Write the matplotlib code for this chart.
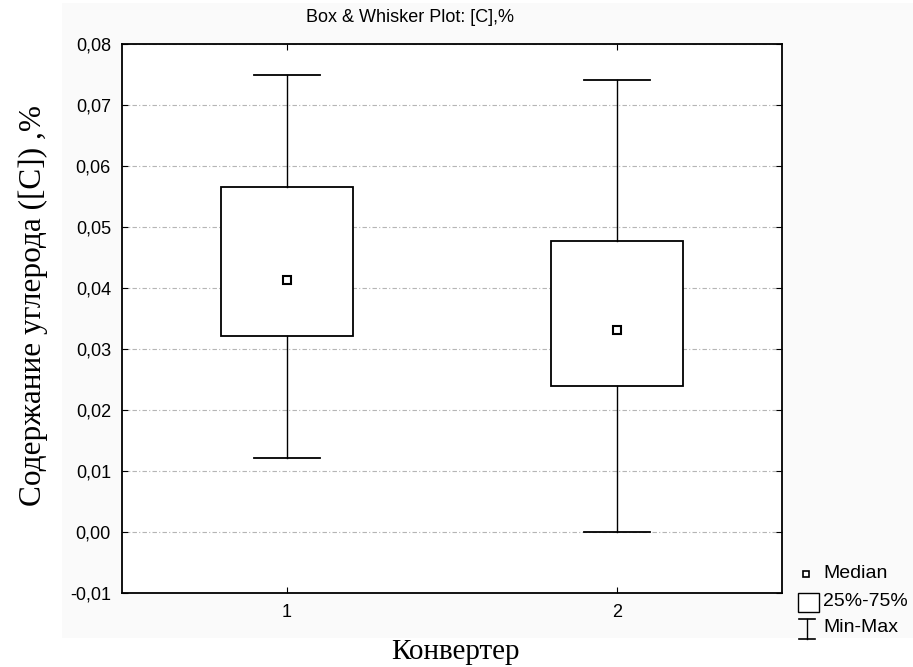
import matplotlib
matplotlib.use("Agg")
from matplotlib import pyplot as plt
from matplotlib.patches import Rectangle
from matplotlib.lines import Line2D

# Summary statistics per converter
converters = [1, 2]
medians = [0.0413, 0.0331]
q1 = [0.0321, 0.0239]
q3 = [0.0566, 0.0477]
mins = [0.0121, 0.0000]
maxs = [0.0749, 0.0741]

y_ticks = [-0.01, 0.0, 0.01, 0.02, 0.03, 0.04, 0.05, 0.06, 0.07, 0.08]
y_tick_labels = ["-0,01", "0,00", "0,01", "0,02", "0,03", "0,04",
                 "0,05", "0,06", "0,07", "0,08"]

fig = plt.figure(figsize=(9.13, 6.67), dpi=100)
fig.patch.set_facecolor("white")

# light panel behind the plot area
fig.patches.append(Rectangle((62 / 913, 1 - 638 / 667), (913 - 62) / 913,
                             (638 - 3) / 667, transform=fig.transFigure,
                             facecolor="#fafafa", edgecolor="none",
                             zorder=-10))

ax = fig.add_axes([122 / 913, 1 - 593 / 667, 660 / 913, 549 / 667])
ax.set_zorder(1)
ax.set_facecolor("white")

stats = []
for i in range(len(converters)):
    stats.append({"med": medians[i], "q1": q1[i], "q3": q3[i],
                  "whislo": mins[i], "whishi": maxs[i], "fliers": []})

ax.bxp(stats, positions=converters, widths=0.4, capwidths=0.2,
       showfliers=False, patch_artist=True,
       boxprops=dict(facecolor="white", edgecolor="black", linewidth=1.3),
       whiskerprops=dict(color="black", linewidth=1.0),
       capprops=dict(color="black", linewidth=1.3),
       medianprops=dict(visible=False), zorder=3)
ax.plot(converters, medians, "s", markersize=6, markerfacecolor="white",
        markeredgecolor="black", markeredgewidth=1.5, zorder=4)

ax.set_xlim(0.5, 2.5)
ax.set_ylim(-0.01, 0.08)
ax.set_xticks(converters)
ax.set_xticklabels([str(c) for c in converters])
ax.set_yticks(y_ticks)
ax.set_yticklabels(y_tick_labels)
ax.grid(axis="y", color="#b5b5b5", linestyle=(0, (4, 2, 1, 2)),
        linewidth=0.8, zorder=1)
ax.set_axisbelow(True)
ax.tick_params(direction="in", top=True, right=True, length=4,
               labelsize=13, pad=8, width=0.8)
for lab in ax.get_xticklabels() + ax.get_yticklabels():
    lab.set_fontfamily("Liberation Sans")
for sp in ax.spines.values():
    sp.set_linewidth(1.3)

fig.text(410 / 913, 1 - 17 / 667, "Box & Whisker Plot: [C],%",
         ha="center", va="center", fontsize=13, family="Liberation Sans")
fig.text(455 / 913, 1 - 652 / 667, "Конвертер", ha="center", va="center",
         fontsize=21, family="Liberation Serif")
fig.text(33 / 913, 1 - 305 / 667, "Содержание углерода ([C]) ,%",
         ha="center", va="center", rotation=90, fontsize=22.5,
         family="Liberation Serif")

# legend drawn in figure pixels
def fx(px):
    return px / 913


def fy(py):
    return 1 - py / 667


fig.add_artist(Line2D([fx(806)], [fy(574)], marker="s", markersize=5,
                      markerfacecolor="white", markeredgecolor="black",
                      markeredgewidth=1.2, transform=fig.transFigure))
fig.add_artist(Rectangle((fx(798), fy(612)), fx(819) - fx(798),
                         fy(593) - fy(612), facecolor="white",
                         edgecolor="black", linewidth=1.0,
                         transform=fig.transFigure))
fig.add_artist(Line2D([fx(807), fx(807)], [fy(619), fy(639)], color="black",
                      linewidth=1.0, transform=fig.transFigure))
for yy in (619, 639):
    fig.add_artist(Line2D([fx(799), fx(815)], [fy(yy), fy(yy)],
                          color="black", linewidth=1.2,
                          transform=fig.transFigure))
for yy, txt in ((574, "Median"), (602, "25%-75%"), (627, "Min-Max")):
    fig.text(fx(823), fy(yy), txt, ha="left", va="center", fontsize=14,
             family="Liberation Sans")

fig.savefig("out.png", dpi=100)
